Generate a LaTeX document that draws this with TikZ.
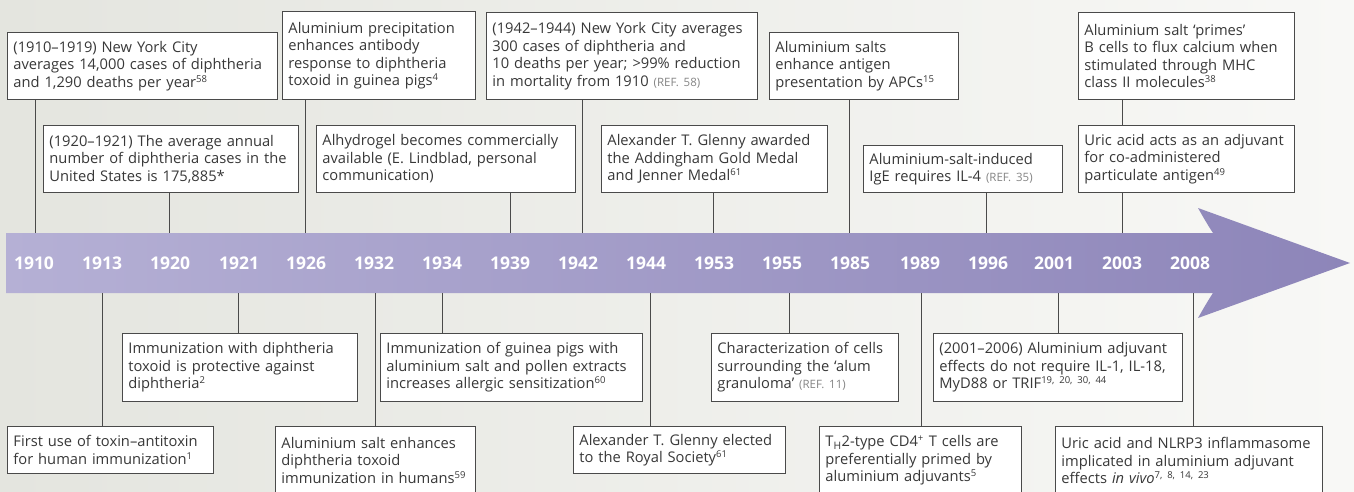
\documentclass[tikz,border=0pt]{standalone}
\usepackage{fontspec}
\setmainfont{Open Sans}
\newfontfamily\yearfont{Open Sans}
\definecolor{bgL}{HTML}{E4E5DF}
\definecolor{bgR}{HTML}{F8F8F6}
\definecolor{arL}{HTML}{B5B0D5}
\definecolor{arR}{HTML}{8D85B9}
\definecolor{ink}{HTML}{383838}
\definecolor{frame}{HTML}{4A4A4A}
\definecolor{refgray}{HTML}{858585}
\newcommand\sups[1]{\textsuperscript{\fontsize{9.5}{10}\selectfont #1}}
\newcommand\refnote[1]{{\fontsize{11.5}{12}\selectfont\color{refgray}(REF.~#1)}}
\begin{document}
\begin{tikzpicture}[x=1pt,y=-1pt,
  evbox/.style 2 args={draw=frame, line width=0.9pt, fill=white, anchor=north west,
    text width=#1pt, minimum height=#2pt, inner xsep=6pt, inner ysep=0pt,
    align=left, text=ink, font=\fontsize{14.7}{17.5}\selectfont},
  yr/.style={text=white, font=\yearfont\bfseries\fontsize{17.5}{17.5}\selectfont},
  conn/.style={draw=frame, line width=0.9pt}]
\useasboundingbox (0,0) rectangle (1354,492);
\clip (0,0) rectangle (1354,492);
\shade[left color=bgL, right color=bgR] (0,0) rectangle (1354,492);

% arrow
\shade[left color=arL, right color=arR] (6,233) -- (1213,233)
  .. controls (1207,224) and (1202,215) .. (1198,208) -- (1350,263) -- (1198,318)
  .. controls (1202,311) and (1207,302) .. (1213,293) -- (6,293) -- cycle;

% year labels
\node[yr] (y1910) at (34,263) {1910};
\node[yr] (y1913) at (102,263) {1913};
\node[yr] (y1920) at (170,263) {1920};
\node[yr] (y1921) at (239,263) {1921};
\node[yr] (y1926) at (306,263) {1926};
\node[yr] (y1932) at (374,263) {1932};
\node[yr] (y1934) at (442,263) {1934};
\node[yr] (y1939) at (510,263) {1939};
\node[yr] (y1942) at (578,263) {1942};
\node[yr] (y1944) at (646,263) {1944};
\node[yr] (y1953) at (714,263) {1953};
\node[yr] (y1955) at (782,263) {1955};
\node[yr] (y1985) at (850,263) {1985};
\node[yr] (y1989) at (920,263) {1989};
\node[yr] (y1996) at (988,263) {1996};
\node[yr] (y2001) at (1054,263) {2001};
\node[yr] (y2003) at (1122,263) {2003};
\node[yr] (y2008) at (1190,263) {2008};

% attach points on the arrow
\coordinate (c1910) at (35,233);
\coordinate (c1920) at (169,233);
\coordinate (c1926) at (305,233);
\coordinate (c1939) at (510,233);
\coordinate (c1942) at (582,233);
\coordinate (c1953) at (713,233);
\coordinate (c1985) at (849,233);
\coordinate (c1996) at (986,233);
\coordinate (c2003) at (1122,233);
\coordinate (d1913) at (102,293);
\coordinate (d1921) at (238,293);
\coordinate (d1932) at (375,293);
\coordinate (d1934) at (442,293);
\coordinate (d1944) at (650,293);
\coordinate (d1955) at (789,293);
\coordinate (d1989) at (921,293);
\coordinate (d2001) at (1058,293);
\coordinate (d2008) at (1193,293);

% top row
\node[evbox={258}{67}] (t1910) at (7,32) {(1910–1919) New York City\\averages 14,000 cases of diphtheria\\and 1,290 deaths per year\sups{58}};
\node[evbox={181}{88}] (t1926) at (282,11) {Aluminium precipitation\\enhances antibody\\response to diphtheria\\toxoid in guinea pigs\sups{4}};
\node[evbox={259}{87}] (t1942) at (486,12) {(1942–1944) New York City averages\\300 cases of diphtheria and\\10 deaths per year; >99\% reduction\\in mortality from 1910 \refnote{58}};
\node[evbox={177}{67}] (t1985) at (769,32) {Aluminium salts\\enhance antigen\\presentation by APCs\sups{15}};
\node[evbox={204}{87}] (t2003a) at (1078,12) {Aluminium salt ‘primes’\\B cells to flux calcium when\\stimulated through MHC\\class II molecules\sups{38}};

% second row
\node[evbox={243}{67}] (t1920) at (43,125) {(1920–1921) The average annual\\number of diphtheria cases in the\\United States is 175,885*};
\node[evbox={247}{67}] (t1939) at (316,125) {Alhydrogel becomes commercially\\available (E. Lindblad, personal\\communication)};
\node[evbox={214}{67}] (t1953) at (601,125) {Alexander T. Glenny awarded\\the Addingham Gold Medal\\and Jenner Medal\sups{61}};
\node[evbox={187}{47}] (t1996) at (863,145) {Aluminium-salt-induced\\IgE requires IL-4 \refnote{35}};
\node[evbox={204}{67}] (t2003b) at (1078,125) {Uric acid acts as an adjuvant\\for co-administered\\particulate antigen\sups{49}};

% first row below
\node[evbox={223}{68}] (b1921) at (122,333) {Immunization with diphtheria\\toxoid is protective against\\diphtheria\sups{2}};
\node[evbox={250}{68}] (b1934) at (380,333) {Immunization of guinea pigs with\\aluminium salt and pollen extracts\\increases allergic sensitization\sups{60}};
\node[evbox={175}{68}] (b1955) at (711,333) {Characterization of cells\\surrounding the ‘alum\\granuloma’ \refnote{11}};
\node[evbox={237}{68}] (b2001) at (933,333) {(2001–2006) Aluminium adjuvant\\effects do not require IL-1, IL-18,\\MyD88 or TRIF\sups{19, 20, 30, 44}};

% second row below
\node[evbox={194}{47}] (b1913) at (7,426) {First use of toxin–antitoxin\\for human immunization\sups{1}};
\node[evbox={188}{68}] (b1932) at (275,426) {Aluminium salt enhances\\diphtheria toxoid\\immunization in humans\sups{59}};
\node[evbox={200}{47}] (b1944) at (573,426) {Alexander T. Glenny elected\\to the Royal Society\sups{61}};
\node[evbox={190}{68}] (b1989) at (819,426) {T\textsubscript{H}2-type CD4\sups{+} T cells are\\preferentially primed by\\aluminium adjuvants\sups{5}};
\node[evbox={255}{68}] (b2008) at (1055,426) {Uric acid and NLRP3 inflammasome\\implicated in aluminium adjuvant\\effects \textit{in vivo}\sups{7, 8, 14, 23}};

% connectors above
\draw[conn] (t1910.south -| c1910) -- (c1910);
\draw[conn] (t1920.south -| c1920) -- (c1920);
\draw[conn] (t1926.south -| c1926) -- (c1926);
\draw[conn] (t1939.south -| c1939) -- (c1939);
\draw[conn] (t1942.south -| c1942) -- (c1942);
\draw[conn] (t1953.south -| c1953) -- (c1953);
\draw[conn] (t1985.south -| c1985) -- (c1985);
\draw[conn] (t1996.south -| c1996) -- (c1996);
\draw[conn] (t2003a.south -| c2003) -- (t2003b.north -| c2003);
\draw[conn] (t2003b.south -| c2003) -- (c2003);

% connectors below
\draw[conn] (d1913) -- (b1913.north -| d1913);
\draw[conn] (d1921) -- (b1921.north -| d1921);
\draw[conn] (d1932) -- (b1932.north -| d1932);
\draw[conn] (d1934) -- (b1934.north -| d1934);
\draw[conn] (d1944) -- (b1944.north -| d1944);
\draw[conn] (d1955) -- (b1955.north -| d1955);
\draw[conn] (d1989) -- (b1989.north -| d1989);
\draw[conn] (d2001) -- (b2001.north -| d2001);
\draw[conn] (d2008) -- (b2008.north -| d2008);
\end{tikzpicture}
\end{document}
